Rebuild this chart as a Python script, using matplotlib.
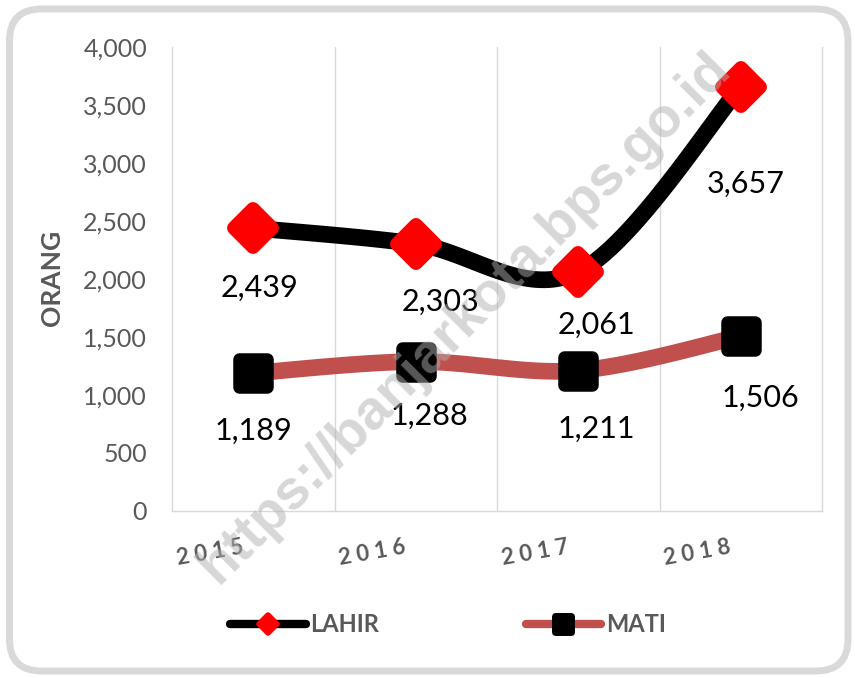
import numpy as np
import matplotlib
matplotlib.use("Agg")
import matplotlib.pyplot as plt
from matplotlib.lines import Line2D
from matplotlib.markers import MarkerStyle
from matplotlib.patches import FancyBboxPatch
from matplotlib.transforms import ScaledTranslation

plt.rcParams['font.family'] = ['Lato', 'DejaVu Sans']

# data
years = ['2015', '2016', '2017', '2018']
lahir = [2439, 2303, 2061, 3657]
mati = [1189, 1288, 1211, 1506]

# label offsets in pixels (dx, dy) from each point
lahir_off = [(6, -60), (25, -58), (18, -53), (5, -97)]
mati_off = [(0, -58), (14, -54), (18, -58), (20, -61)]

GREY = '#595959'
GRID = '#D9D9D9'


# Excel-like smoothed line (Catmull-Rom as cubic bezier)
def smooth(xs, ys, n=40):
	p = np.column_stack([xs, ys]).astype(float)
	pad = np.vstack([p[0], p, p[-1]])
	t = np.linspace(0, 1, n)[:, None]
	out = []
	for i in range(len(p) - 1):
		a = p[i]
		d = p[i + 1]
		b = a + (pad[i + 2] - pad[i]) / 6
		c = d - (pad[i + 3] - pad[i + 1]) / 6
		seg = (1 - t) ** 3 * a + 3 * (1 - t) ** 2 * t * b + 3 * (1 - t) * t ** 2 * c + t ** 3 * d
		out.append(seg if i == 0 else seg[1:])
	out = np.vstack(out)
	return out[:, 0], out[:, 1]


fig = plt.figure(figsize=(8.55, 6.78), dpi=100)
fig.patch.set_facecolor('white')

frame = FancyBboxPatch((0.095, 0.07), 8.385, 6.62,
	boxstyle="round,pad=0,rounding_size=0.32",
	transform=fig.dpi_scale_trans, fc='white', ec=GRID, lw=5, zorder=-1)
fig.patches.append(frame)

ax = fig.add_axes([172 / 855, 1 - 511 / 678, 650 / 855, 464 / 678])
ax.set_facecolor('none')

x = np.arange(len(years))

sx, sy = smooth(x, lahir)
ax.plot(sx, sy, color='black', lw=12, solid_capstyle='round', zorder=3)
ax.plot(x, lahir, linestyle='none', marker=MarkerStyle('D', joinstyle='round'),
	ms=19, mfc='#FF0000', mec='#FF0000', mew=10, zorder=4)

sx, sy = smooth(x, mati)
ax.plot(sx, sy, color='#C0504D', lw=12, solid_capstyle='round', zorder=3)
ax.plot(x, mati, linestyle='none', marker=MarkerStyle('s', joinstyle='round'),
	ms=20, mfc='black', mec='black', mew=9, zorder=4)

for xi, v, (dx, dy) in zip(x, lahir, lahir_off):
	ax.annotate(f"{v:,}", (xi, v), xytext=(dx, dy), textcoords='offset pixels',
		ha='center', va='center', fontsize=22, color='black', zorder=5)
for xi, v, (dx, dy) in zip(x, mati, mati_off):
	ax.annotate(f"{v:,}", (xi, v), xytext=(dx, dy), textcoords='offset pixels',
		ha='center', va='center', fontsize=22, color='black', zorder=5)

ax.set_xlim(-0.5, 3.5)
ax.set_ylim(0, 4000)
ax.set_yticks(range(0, 4001, 500))
ax.set_yticklabels([f"{v:,}" for v in range(0, 4001, 500)])
ax.set_xticks(x)
ax.set_xticklabels([" ".join(y) for y in years])
ax.set_xticks([0.5, 1.5, 2.5], minor=True)
ax.grid(which='minor', axis='x', color=GRID, lw=1)
ax.grid(which='major', visible=False)
ax.tick_params(which='both', length=0)
ax.tick_params(axis='y', labelsize=18, labelcolor=GREY, pad=18)
ax.tick_params(axis='x', labelsize=16, labelcolor=GREY, pad=26)

shift = ScaledTranslation(-10 / 100, 0, fig.dpi_scale_trans)
for lbl in ax.get_xticklabels():
	lbl.set_rotation(10)
	lbl.set_rotation_mode('anchor')
	lbl.set_ha('right')
	lbl.set_va('center')
	lbl.set_fontweight('bold')
	lbl.set_transform(lbl.get_transform() + shift)

ax.spines['top'].set_visible(False)
for s in ['left', 'right', 'bottom']:
	ax.spines[s].set_color(GRID)
	ax.spines[s].set_linewidth(1)

ax.set_ylabel('ORANG', fontsize=19, fontweight='bold', color=GREY)
ax.yaxis.set_label_coords(-0.166, 0.502)

handles = [
	Line2D([], [], color='black', lw=6, solid_capstyle='round',
		marker=MarkerStyle('D', joinstyle='round'), ms=9, mfc='#FF0000', mec='#FF0000', mew=4),
	Line2D([], [], color='#C0504D', lw=6, solid_capstyle='round',
		marker=MarkerStyle('s', joinstyle='round'), ms=11, mfc='black', mec='black', mew=5),
]
leg = fig.legend(handles, ['LAHIR', 'MATI'], loc='center', bbox_to_anchor=(448 / 855, 1 - 625 / 678),
	ncol=2, frameon=False, handlelength=3.2, handletextpad=0.2, columnspacing=6.2,
	prop={'size': 17, 'weight': 'bold'})
for t in leg.get_texts():
	t.set_color(GREY)

fig.text(465 / 855, 1 - 318 / 678, "https://banjarkota.bps.go.id", rotation=45,
	ha='center', va='center', fontsize=40, fontweight='bold', family='Liberation Sans',
	color='#B0B0B0', alpha=0.5, zorder=10)

fig.savefig('out.png', dpi=100)
